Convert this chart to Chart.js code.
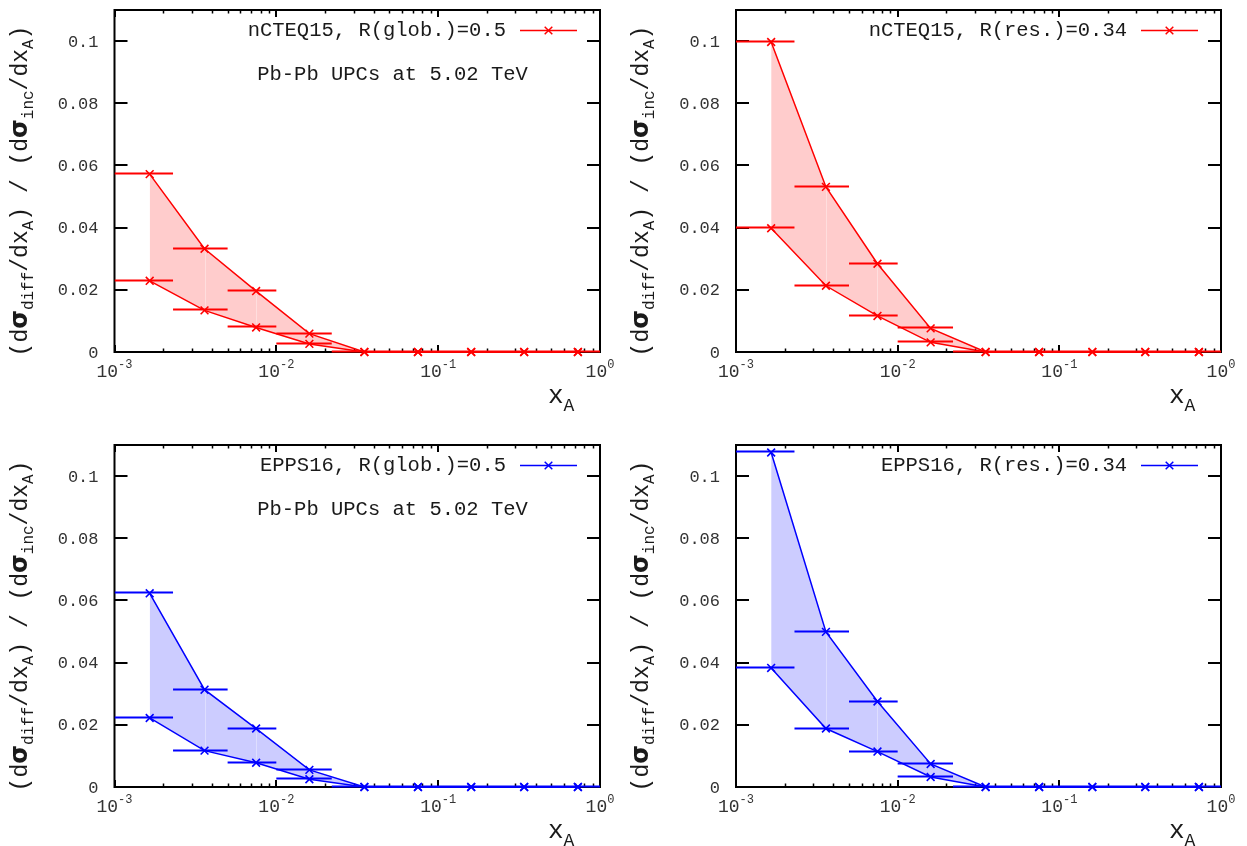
<!DOCTYPE html>
<html>
<head>
<meta charset="utf-8">
<script src="https://cdn.jsdelivr.net/npm/chart.js@4.4.1/dist/chart.umd.min.js"></script>
<style>
  html, body { margin: 0; padding: 0; background: #fff; }
  body { width: 1247px; height: 846px; position: relative; overflow: hidden; }
  canvas { position: absolute; }
</style>
</head>
<body>
<canvas id="c1"></canvas>
<canvas id="c2"></canvas>
<canvas id="c3"></canvas>
<canvas id="c4"></canvas>
<script>
// ---------------- data ----------------
const xCenters = [1.65e-3, 3.6e-3, 7.5e-3, 1.6e-2, 3.5e-2, 7.5e-2, 0.16, 0.34, 0.73];
const binLo    = [1.0e-3, 2.3e-3, 5.0e-3, 1.0e-2, 2.2e-2, 4.7e-2, 0.10, 0.22, 0.47];
const binHi    = [2.3e-3, 5.0e-3, 1.0e-2, 2.2e-2, 4.7e-2, 0.10, 0.22, 0.47, 1.0];

const ncteqGlobUpper = [0.0572, 0.0332, 0.0196, 0.0059, 0, 0, 0, 0, 0];
const ncteqGlobLower = [0.0229, 0.0134, 0.0079, 0.0026, 0, 0, 0, 0, 0];
const ncteqResUpper  = [0.0997, 0.0531, 0.0284, 0.0076, 0, 0, 0, 0, 0];
const ncteqResLower  = [0.0398, 0.0213, 0.0116, 0.0031, 0, 0, 0, 0, 0];
const eppsGlobUpper  = [0.0623, 0.0313, 0.0188, 0.0055, 0, 0, 0, 0, 0];
const eppsGlobLower  = [0.0222, 0.0117, 0.0078, 0.0025, 0, 0, 0, 0, 0];
const eppsResUpper   = [0.1076, 0.0499, 0.0275, 0.0074, 0, 0, 0, 0, 0];
const eppsResLower   = [0.0383, 0.0188, 0.0114, 0.0032, 0, 0, 0, 0, 0];

const legendLabels = ['nCTEQ15, R(glob.)=0.5', 'nCTEQ15, R(res.)=0.34', 'EPPS16, R(glob.)=0.5', 'EPPS16, R(res.)=0.34'];
const noteText = 'Pb-Pb UPCs at 5.02 TeV';

const xMajorTicks = [1e-3, 1e-2, 1e-1, 1];
const xTickExponents = ['-3', '-2', '-1', '0'];
const yTicks = [0, 0.02, 0.04, 0.06, 0.08, 0.1];
const yTickLabels = ['0', '0.02', '0.04', '0.06', '0.08', '0.1'];

// ---------------- layout ----------------
const MONO = "'Liberation Mono', 'DejaVu Sans Mono', monospace";
const RED = '#ff0000', BLUE = '#0000ff';
const panels = [
  { id: 'c1', left: 0,   top: 0,   w: 620, h: 423, l: 114.5, r: 600, t: 10, b: 352,
    upper: ncteqGlobUpper, lower: ncteqGlobLower, color: RED,  fill: 'rgba(255,0,0,0.2)', legend: legendLabels[0], note: true },
  { id: 'c2', left: 620, top: 0,   w: 627, h: 423, l: 116,   r: 601, t: 10, b: 352,
    upper: ncteqResUpper,  lower: ncteqResLower,  color: RED,  fill: 'rgba(255,0,0,0.2)', legend: legendLabels[1], note: false },
  { id: 'c3', left: 0,   top: 423, w: 620, h: 423, l: 114.5, r: 600, t: 22, b: 364,
    upper: eppsGlobUpper,  lower: eppsGlobLower,  color: BLUE, fill: 'rgba(0,0,255,0.2)', legend: legendLabels[2], note: true },
  { id: 'c4', left: 620, top: 423, w: 627, h: 423, l: 116,   r: 601, t: 22, b: 364,
    upper: eppsResUpper,   lower: eppsResLower,   color: BLUE, fill: 'rgba(0,0,255,0.2)', legend: legendLabels[3], note: false },
];

function drawMarker(ctx, x, y, color) {
  ctx.save();
  ctx.strokeStyle = color; ctx.lineWidth = 1.5;
  const s = 3.8;
  ctx.beginPath();
  ctx.moveTo(x - s, y - s); ctx.lineTo(x + s, y + s);
  ctx.moveTo(x - s, y + s); ctx.lineTo(x + s, y - s);
  ctx.stroke();
  ctx.restore();
}

function drawRich(ctx, segs, x0) {
  let x = x0;
  for (const s of segs) {
    ctx.font = s.font;
    ctx.fillText(s.t, x, s.dy || 0);
    x += ctx.measureText(s.t).width;
  }
}
function richWidth(ctx, segs) {
  let w = 0;
  for (const s of segs) { ctx.font = s.font; w += ctx.measureText(s.t).width; }
  return w;
}

const framePlugin = {
  id: 'frame',
  beforeDatasetsDraw(chart, args, opts) {
    const ctx = chart.ctx, a = chart.chartArea, xs = chart.scales.x, ys = chart.scales.y;
    const P = opts.panel;
    ctx.save();
    ctx.strokeStyle = '#000';
    ctx.lineWidth = 2;
    ctx.beginPath();
    for (const v of yTicks) {
      const py = Math.round(ys.getPixelForValue(v));
      ctx.moveTo(a.left, py); ctx.lineTo(a.left + 13, py);
      ctx.moveTo(a.right, py); ctx.lineTo(a.right - 13, py);
    }
    for (const v of xMajorTicks) {
      const px = Math.round(xs.getPixelForValue(v));
      ctx.moveTo(px, a.bottom); ctx.lineTo(px, a.bottom - 7);
      ctx.moveTo(px, a.top); ctx.lineTo(px, a.top + 7);
    }
    ctx.stroke();
    ctx.lineWidth = 1.5;
    ctx.beginPath();
    for (let d = 0; d < 3; d++) {
      for (let m = 2; m <= 9; m++) {
        const v = xMajorTicks[d] * m;
        const px = Math.round(xs.getPixelForValue(v)) + 0.5;
        ctx.moveTo(px, a.bottom); ctx.lineTo(px, a.bottom - 3.5);
        ctx.moveTo(px, a.top); ctx.lineTo(px, a.top + 3.5);
      }
    }
    ctx.stroke();
    ctx.lineWidth = 2;
    ctx.strokeRect(a.left, a.top, a.right - a.left, a.bottom - a.top);

    // y tick labels
    ctx.fillStyle = '#333';
    ctx.font = '17px ' + MONO;
    ctx.textAlign = 'right';
    ctx.textBaseline = 'middle';
    yTicks.forEach((v, i) => {
      ctx.fillText(yTickLabels[i], a.left - 16, ys.getPixelForValue(v) + 1);
    });
    // x tick labels 10^n
    ctx.textAlign = 'left';
    ctx.textBaseline = 'alphabetic';
    xMajorTicks.forEach((v, i) => {
      const segs = [{ t: '10', font: '18px ' + MONO }, { t: xTickExponents[i], font: '12px ' + MONO, dy: -9 }];
      const w = richWidth(ctx, segs);
      const px = xs.getPixelForValue(v);
      ctx.save();
      ctx.translate(0, a.bottom + 25);
      drawRich(ctx, segs, px - w / 2);
      ctx.restore();
    });
    // x axis title
    ctx.fillStyle = '#1a1a1a';
    ctx.save();
    ctx.translate(0, a.bottom + 51);
    drawRich(ctx, [{ t: 'x', font: '26px ' + MONO }, { t: 'A', font: '18px ' + MONO, dy: 8 }], a.right - 52);
    ctx.restore();
    // y axis title (rotated)
    const segs = [
      { t: '(d', font: '23px ' + MONO }, { t: 'σ', font: 'bold 24px DejaVu Sans' }, { t: 'diff', font: '16px ' + MONO, dy: 6 },
      { t: '/dx', font: '23px ' + MONO }, { t: 'A', font: '16px ' + MONO, dy: 6 },
      { t: ') / (d', font: '23px ' + MONO }, { t: 'σ', font: 'bold 24px DejaVu Sans' }, { t: 'inc', font: '16px ' + MONO, dy: 6 },
      { t: '/dx', font: '23px ' + MONO }, { t: 'A', font: '16px ' + MONO, dy: 6 }, { t: ')', font: '23px ' + MONO }
    ];
    const tw = richWidth(ctx, segs);
    ctx.save();
    ctx.translate(a.left - 88, a.top + 181);
    ctx.rotate(-Math.PI / 2);
    drawRich(ctx, segs, -tw / 2);
    ctx.restore();

    // legend
    ctx.font = '20.5px ' + MONO;
    ctx.textAlign = 'right';
    ctx.textBaseline = 'middle';
    ctx.fillText(P.legend, a.right - 94, a.top + 21);
    ctx.strokeStyle = P.color;
    ctx.lineWidth = 1.5;
    ctx.beginPath();
    ctx.moveTo(a.right - 80, a.top + 20.5); ctx.lineTo(a.right - 23, a.top + 20.5);
    ctx.stroke();
    drawMarker(ctx, a.right - 51.5, a.top + 20.5, P.color);
    if (P.note) {
      ctx.textAlign = 'center';
      ctx.fillStyle = '#1a1a1a';
      ctx.fillText(noteText, a.right - 207.5, a.top + 65);
    }
    ctx.restore();
  },
  afterDatasetsDraw(chart, args, opts) {
    const ctx = chart.ctx, a = chart.chartArea, xs = chart.scales.x, ys = chart.scales.y;
    const P = opts.panel;
    ctx.save();
    // faint polygon seams inside the band
    ctx.strokeStyle = 'rgba(255,255,255,0.35)';
    ctx.lineWidth = 1;
    ctx.beginPath();
    for (let i = 1; i <= 2; i++) {
      const px = Math.round(xs.getPixelForValue(xCenters[i])) + 0.5;
      ctx.moveTo(px, ys.getPixelForValue(P.upper[i]) + 4);
      ctx.lineTo(px, ys.getPixelForValue(P.lower[i]) - 4);
    }
    ctx.stroke();
    ctx.beginPath();
    ctx.rect(a.left, 0, a.right - a.left, chart.height);
    ctx.clip();
    ctx.strokeStyle = P.color;
    ctx.lineWidth = 2;
    ctx.beginPath();
    for (const arr of [P.upper, P.lower]) {
      arr.forEach((v, i) => {
        const py = Math.round(ys.getPixelForValue(v)) - 0.5;
        ctx.moveTo(xs.getPixelForValue(binLo[i]), py);
        ctx.lineTo(xs.getPixelForValue(binHi[i]), py);
      });
    }
    ctx.stroke();
    ctx.restore();
  }
};

for (const P of panels) {
  const cv = document.getElementById(P.id);
  cv.width = P.w; cv.height = P.h;
  cv.style.left = P.left + 'px'; cv.style.top = P.top + 'px';
  cv.style.width = P.w + 'px'; cv.style.height = P.h + 'px';
  const up = xCenters.map((x, i) => ({ x, y: P.upper[i] }));
  const lo = xCenters.map((x, i) => ({ x, y: P.lower[i] }));
  new Chart(cv, {
    type: 'line',
    data: {
      datasets: [
        { data: up, borderColor: P.color, borderWidth: 1.5, backgroundColor: P.fill, fill: '+1',
          pointStyle: 'crossRot', pointRadius: 5.5, pointBorderWidth: 1.6, pointBorderColor: P.color,
          tension: 0, clip: false },
        { data: lo, borderColor: P.color, borderWidth: 1.5, fill: false,
          pointStyle: 'crossRot', pointRadius: 5.5, pointBorderWidth: 1.6, pointBorderColor: P.color,
          tension: 0, clip: false }
      ]
    },
    options: {
      responsive: false,
      animation: false,
      devicePixelRatio: 1,
      layout: { padding: { left: 0, top: P.t, right: P.w - P.r, bottom: 0 } },
      plugins: { legend: { display: false }, tooltip: { enabled: false }, frame: { panel: P } },
      scales: {
        x: { type: 'logarithmic', min: 1e-3, max: 1,
             ticks: { display: false }, grid: { display: false }, border: { display: false },
             afterFit(s) { s.height = P.h - P.b; } },
        y: { type: 'linear', min: 0, max: 0.11,
             ticks: { display: false }, grid: { display: false }, border: { display: false },
             afterFit(s) { s.width = P.l; } }
      }
    },
    plugins: [framePlugin]
  });
}
</script>
</body>
</html>
